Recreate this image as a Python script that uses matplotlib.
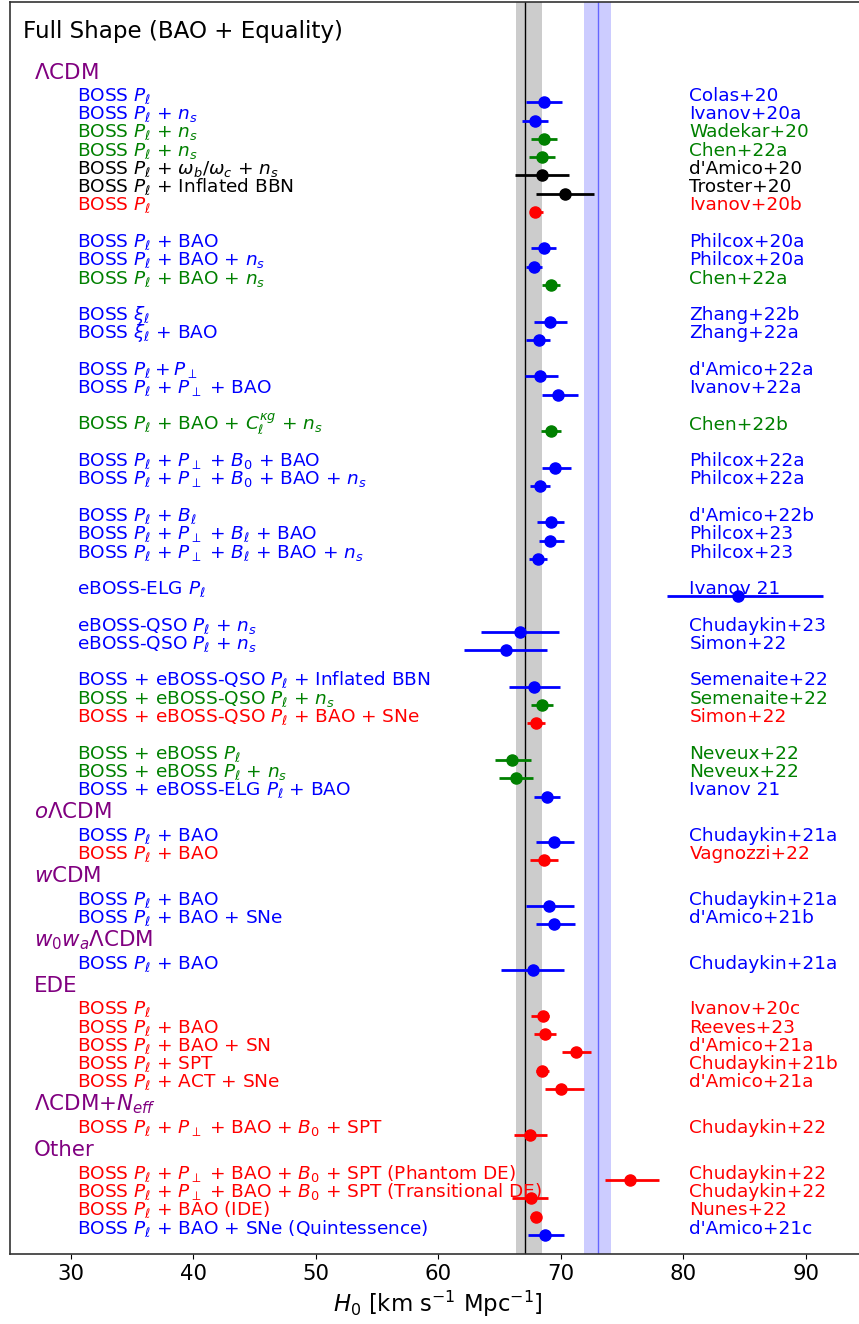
import numpy as np
import matplotlib.pyplot as plt

# 模型分组标题
headers = [r'$\Lambda$CDM', r'$o\Lambda$CDM', r'$w$CDM', r'$w_0w_a\Lambda$CDM',
           'EDE', r'$\Lambda$CDM+$N_{eff}$', 'Other']

# 每一行所属的模型 (headers 下标) 和组内小组
section = [0] * 29 + [1] * 2 + [2] * 2 + [3] + [4] * 5 + [5] + [6] * 4
group = ([0] * 7 + [1] * 3 + [2] * 2 + [3] * 2 + [4] + [5] * 2 + [6] * 3 + [7]
         + [8] * 2 + [9] * 3 + [10] * 3 + [0] * 15)

labels = [
    r'BOSS $P_\ell$',
    r'BOSS $P_\ell$ + $n_s$',
    r'BOSS $P_\ell$ + $n_s$',
    r'BOSS $P_\ell$ + $n_s$',
    r'BOSS $P_\ell$ + $\omega_b/\omega_c$ + $n_s$',
    r'BOSS $P_\ell$ + Inflated BBN',
    r'BOSS $P_\ell$',
    r'BOSS $P_\ell$ + BAO',
    r'BOSS $P_\ell$ + BAO + $n_s$',
    r'BOSS $P_\ell$ + BAO + $n_s$',
    r'BOSS $\xi_\ell$',
    r'BOSS $\xi_\ell$ + BAO',
    r'BOSS $P_\ell + P_\perp$',
    r'BOSS $P_\ell$ + $P_\perp$ + BAO',
    r'BOSS $P_\ell$ + BAO + $C_\ell^{\kappa g}$ + $n_s$',
    r'BOSS $P_\ell$ + $P_\perp$ + $B_0$ + BAO',
    r'BOSS $P_\ell$ + $P_\perp$ + $B_0$ + BAO + $n_s$',
    r'BOSS $P_\ell$ + $B_\ell$',
    r'BOSS $P_\ell$ + $P_\perp$ + $B_\ell$ + BAO',
    r'BOSS $P_\ell$ + $P_\perp$ + $B_\ell$ + BAO + $n_s$',
    r'eBOSS-ELG $P_\ell$',
    r'eBOSS-QSO $P_\ell$ + $n_s$',
    r'eBOSS-QSO $P_\ell$ + $n_s$',
    r'BOSS + eBOSS-QSO $P_\ell$ + Inflated BBN',
    r'BOSS + eBOSS-QSO $P_\ell$ + $n_s$',
    r'BOSS + eBOSS-QSO $P_\ell$ + BAO + SNe',
    r'BOSS + eBOSS $P_\ell$',
    r'BOSS + eBOSS $P_\ell$ + $n_s$',
    r'BOSS + eBOSS-ELG $P_\ell$ + BAO',
    r'BOSS $P_\ell$ + BAO',
    r'BOSS $P_\ell$ + BAO',
    r'BOSS $P_\ell$ + BAO',
    r'BOSS $P_\ell$ + BAO + SNe',
    r'BOSS $P_\ell$ + BAO',
    r'BOSS $P_\ell$',
    r'BOSS $P_\ell$ + BAO',
    r'BOSS $P_\ell$ + BAO + SN',
    r'BOSS $P_\ell$ + SPT',
    r'BOSS $P_\ell$ + ACT + SNe',
    r'BOSS $P_\ell$ + $P_\perp$ + BAO + $B_0$ + SPT',
    r'BOSS $P_\ell$ + $P_\perp$ + BAO + $B_0$ + SPT (Phantom DE)',
    r'BOSS $P_\ell$ + $P_\perp$ + BAO + $B_0$ + SPT (Transitional DE)',
    r'BOSS $P_\ell$ + BAO (IDE)',
    r'BOSS $P_\ell$ + BAO + SNe (Quintessence)',
]

refs = ['Colas+20', 'Ivanov+20a', 'Wadekar+20', 'Chen+22a', "d'Amico+20", 'Troster+20',
        'Ivanov+20b', 'Philcox+20a', 'Philcox+20a', 'Chen+22a', 'Zhang+22b', 'Zhang+22a',
        "d'Amico+22a", 'Ivanov+22a', 'Chen+22b', 'Philcox+22a', 'Philcox+22a',
        "d'Amico+22b", 'Philcox+23', 'Philcox+23', 'Ivanov 21', 'Chudaykin+23', 'Simon+22',
        'Semenaite+22', 'Semenaite+22', 'Simon+22', 'Neveux+22', 'Neveux+22', 'Ivanov 21',
        'Chudaykin+21a', 'Vagnozzi+22', 'Chudaykin+21a', "d'Amico+21b", 'Chudaykin+21a',
        'Ivanov+20c', 'Reeves+23', "d'Amico+21a", 'Chudaykin+21b', "d'Amico+21a",
        'Chudaykin+22', 'Chudaykin+22', 'Chudaykin+22', 'Nunes+22', "d'Amico+21c"]

colors = ['blue', 'blue', 'green', 'green', 'black', 'black', 'red',
          'blue', 'blue', 'green', 'blue', 'blue', 'blue', 'blue', 'green',
          'blue', 'blue', 'blue', 'blue', 'blue', 'blue', 'blue', 'blue',
          'blue', 'green', 'red', 'green', 'green', 'blue',
          'blue', 'red', 'blue', 'blue', 'blue',
          'red', 'red', 'red', 'red', 'red', 'red',
          'red', 'red', 'red', 'blue']

# H0 及其误差 (下, 上)
h0 = [68.6, 67.9, 68.6, 68.5, 68.5, 70.35, 67.9,
      68.6, 67.8, 69.2, 69.1, 68.2, 68.3, 69.8, 69.2,
      69.55, 68.3, 69.2, 69.15, 68.15, 84.5, 66.65, 65.5,
      67.85, 68.5, 67.97, 66.05, 66.35, 68.85,
      69.45, 68.6, 69.0, 69.47, 67.7,
      68.54, 68.7, 71.25, 68.5, 70.0, 67.5,
      75.65, 67.6, 67.97, 68.7]
err_lo = [1.4, 1.1, 1.05, 1.1, 2.2, 2.35, 0.45,
          1.05, 0.65, 0.75, 1.3, 1.0, 1.2, 1.3, 0.8,
          1.05, 0.85, 1.1, 0.95, 0.75, 5.8, 3.15, 3.4,
          2.1, 0.9, 0.7, 1.45, 1.4, 1.0,
          1.5, 1.1, 1.8, 1.45, 2.6,
          0.95, 0.85, 1.15, 0.55, 1.3, 1.35,
          2.0, 1.6, 0.45, 1.35]
err_hi = [1.5, 1.05, 1.1, 1.05, 2.15, 2.4, 0.65,
          1.05, 0.7, 0.77, 1.45, 0.95, 1.5, 1.6, 0.78,
          1.3, 0.85, 1.1, 1.1, 0.75, 6.9, 3.2, 3.35,
          2.1, 0.85, 0.78, 1.5, 1.4, 1.1,
          1.6, 1.15, 2.1, 1.7, 2.6,
          0.52, 0.9, 1.2, 0.5, 1.9, 1.35,
          2.35, 1.35, 0.45, 1.6]

planck_h0, planck_lo, planck_hi = 67.1, 66.35, 68.45
shoes_h0, shoes_lo, shoes_hi = 73.0, 71.92, 74.08

# 计算每一行的纵坐标
y = []
cur = 0.0
for i in range(len(labels)):
    if i > 0:
        if section[i] != section[i - 1]:
            cur += 2.5
        elif group[i] != group[i - 1]:
            cur += 2.0
        else:
            cur += 1.0
    y.append(cur)

fig = plt.figure(figsize=(8.59, 13.24), dpi=100)
ax = fig.add_axes([9.5 / 859, 70 / 1324, 857.5 / 859, 1252 / 1324])

ax.axvspan(planck_lo, planck_hi, color='k', alpha=0.2, lw=0)
ax.axvline(planck_h0, color='k', lw=1)
ax.axvspan(shoes_lo, shoes_hi, color='blue', alpha=0.2, lw=0)
ax.axvline(shoes_h0, color='blue', lw=1, alpha=0.5)

for i in range(len(labels)):
    ax.errorbar(h0[i], y[i], xerr=[[err_lo[i]], [err_hi[i]]], fmt='o', color=colors[i],
                ms=8, elinewidth=2, capsize=0)
    ax.text(30.55, y[i] - 0.08, labels[i], color=colors[i], fontsize=13.3, va='baseline')
    ax.text(80.5, y[i] - 0.08, refs[i], color=colors[i], fontsize=13.3, va='baseline')

# 分组标题
for s, name in enumerate(headers):
    first = y[section.index(s)]
    ax.text(27.0, first - 1.3, name, color='purple', fontsize=15.4, va='baseline')

ax.text(26.1, -3.5, 'Full Shape (BAO + Equality)', fontsize=16.6, va='baseline')

ax.set_xlim(25, 95)
ax.set_ylim(63.04, -5.49)
ax.set_yticks([])
ax.set_xticks([30, 40, 50, 60, 70, 80, 90])
ax.tick_params(axis='x', labelsize=15.3)
ax.set_xlabel(r'$H_0$ [km s$^{-1}$ Mpc$^{-1}$]', fontsize=16.4)
for sp in ax.spines.values():
    sp.set_color('#333333')
    sp.set_linewidth(1.2)

fig.savefig('out.png', dpi=100)
